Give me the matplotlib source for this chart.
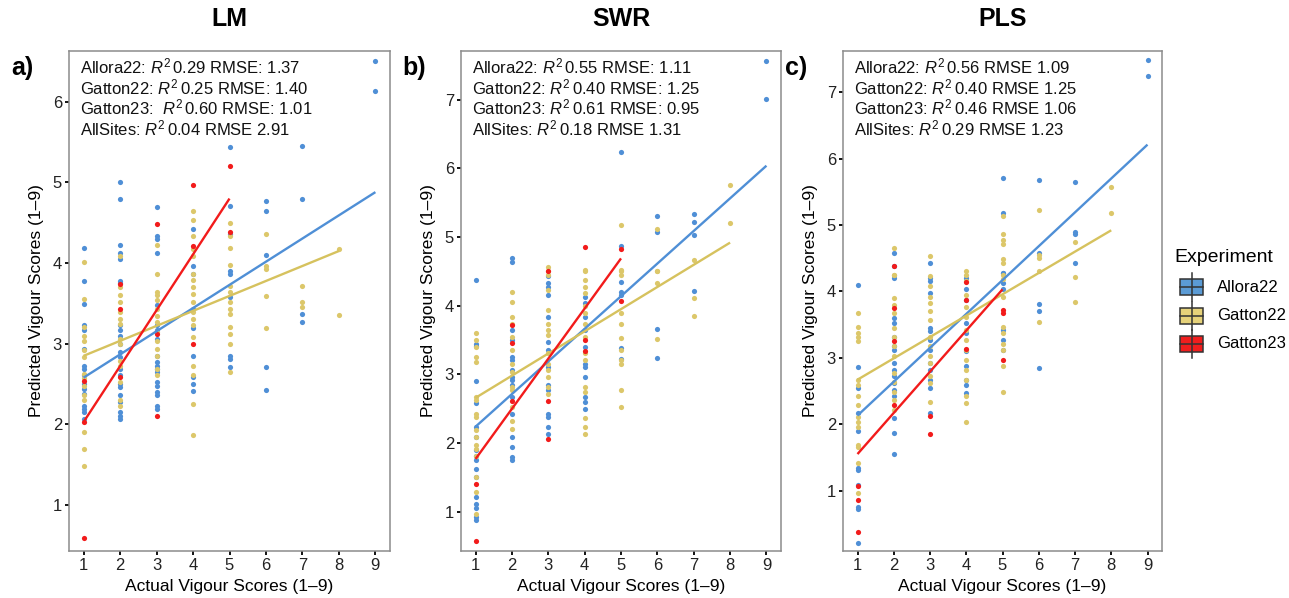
import matplotlib
matplotlib.use("Agg")
import matplotlib.pyplot as plt
from matplotlib.patches import Rectangle

plt.rcParams['font.family'] = ['Liberation Sans', 'DejaVu Sans']
plt.rcParams['mathtext.fontset'] = 'custom'
plt.rcParams['mathtext.rm'] = 'Liberation Sans'
plt.rcParams['mathtext.it'] = 'Liberation Sans:italic'

experiments = ["Allora22", "Gatton22", "Gatton23"]
colors = {"Allora22": "#4F8FD6", "Gatton22": "#DCC76A", "Gatton23": "#F21B1B"}
line_colors = {"Allora22": "#4F8FD6", "Gatton22": "#D6C25E", "Gatton23": "#F21B1B"}
key_colors = {"Allora22": "#5B9BD5", "Gatton22": "#E6D27A", "Gatton23": "#F01E1E"}

# predicted scores per actual score (x)
lm_allora = {
    1: [4.19, 3.78, 3.49, 3.23, 3.17, 2.93, 2.73, 2.69, 2.61, 2.50, 2.44, 2.38, 2.23, 2.19, 2.15, 2.07],
    2: [5.00, 4.79, 4.23, 4.13, 4.05, 3.78, 3.75, 3.23, 3.17, 3.10, 3.00, 2.90, 2.83, 2.69, 2.61,
        2.50, 2.46, 2.36, 2.28, 2.15, 2.11, 2.07],
    3: [4.69, 4.34, 4.30, 4.12, 3.48, 3.23, 3.17, 3.06, 2.85, 2.77, 2.73, 2.69, 2.65, 2.52, 2.48,
        2.40, 2.36, 2.23, 2.19],
    4: [4.42, 3.97, 3.87, 3.43, 3.19, 2.85, 2.59, 2.50, 2.42],
    5: [5.44, 4.71, 4.36, 3.90, 3.87, 3.58, 2.85, 2.81, 2.71],
    6: [4.77, 4.65, 4.10, 2.71, 2.43],
    7: [5.45, 4.80, 3.37, 3.27],
    9: [6.50, 6.13],
}
lm_gatton22 = {
    1: [4.01, 3.55, 3.21, 3.10, 3.04, 2.92, 2.83, 2.63, 2.57, 2.48, 2.36, 2.30, 1.91, 1.70, 1.48],
    2: [4.09, 3.70, 3.60, 3.52, 3.39, 3.31, 3.25, 3.06, 3.00, 2.79, 2.73, 2.52, 2.30, 2.23],
    3: [4.22, 3.87, 3.64, 3.60, 3.54, 3.43, 3.35, 3.27, 3.15, 3.04, 2.94, 2.85, 2.69, 2.61],
    4: [4.64, 4.53, 4.34, 4.17, 4.09, 3.87, 3.79, 3.70, 3.62, 3.52, 3.39, 3.31, 3.23, 3.08, 2.73,
        2.61, 2.25, 1.87],
    5: [4.50, 4.34, 4.19, 3.98, 3.72, 3.64, 3.52, 3.43, 3.37, 3.21, 3.12, 3.00, 2.65],
    6: [4.36, 3.97, 3.93, 3.59, 3.19],
    7: [3.72, 3.52, 3.46],
    8: [4.17, 3.36],
}
lm_gatton23 = {
    1: [2.54, 2.03, 0.59],
    2: [3.74, 3.43, 2.59],
    3: [4.49, 3.12, 2.11],
    4: [4.97, 4.21, 3.00],
    5: [5.21, 4.39],
}

swr_allora = {
    1: [4.38, 3.45, 3.41, 2.90, 2.58, 2.24, 2.09, 1.90, 1.82, 1.75, 1.63, 1.51, 1.22, 1.12, 1.05,
        0.92, 0.88],
    2: [4.69, 4.64, 3.65, 3.50, 3.26, 3.21, 3.06, 2.97, 2.92, 2.84, 2.67, 2.43, 2.09, 1.94, 1.80, 1.75],
    3: [4.43, 4.33, 4.28, 4.16, 3.84, 3.48, 3.35, 3.11, 2.84, 2.77, 2.43, 2.38, 2.24, 2.14],
    4: [4.13, 4.04, 3.84, 3.65, 3.40, 3.16, 3.11, 2.97, 2.67, 2.60, 2.50],
    5: [6.24, 4.87, 4.34, 4.20, 4.16, 3.38, 3.23],
    6: [5.31, 5.07, 3.66, 3.24],
    7: [5.34, 5.22, 5.03, 4.22],
    9: [7.57, 7.01],
}
swr_gatton22 = {
    1: [3.60, 3.50, 3.40, 3.26, 3.18, 2.67, 2.63, 2.43, 2.38, 2.19, 2.09, 1.97, 1.92, 1.82, 1.51,
        1.29, 0.97],
    2: [4.20, 4.06, 3.84, 3.74, 3.55, 3.35, 3.16, 3.04, 2.82, 2.77, 2.53, 2.33, 2.21],
    3: [4.57, 4.51, 4.45, 4.23, 3.94, 3.74, 3.65, 3.57, 3.31, 3.16, 3.06, 2.97, 2.82, 2.72],
    4: [4.52, 4.50, 4.37, 4.28, 4.18, 3.99, 3.89, 3.74, 3.55, 3.31, 3.21, 2.82, 2.75, 2.36, 2.24, 2.14],
    5: [5.18, 4.52, 4.45, 4.50, 3.89, 3.74, 3.53, 3.35, 3.21, 3.16, 2.77, 2.53],
    6: [5.12, 4.51, 4.50, 4.33, 3.51],
    7: [4.67, 4.12, 3.85],
    8: [5.76, 5.21],
}
swr_gatton23 = {
    1: [1.40, 0.57],
    2: [3.72, 3.46, 2.61],
    3: [4.51, 2.61, 2.06],
    4: [4.85, 3.50, 3.34],
    5: [4.83, 4.07],
}

pls_allora = {
    1: [4.09, 2.86, 2.54, 2.17, 1.89, 1.34, 1.31, 1.08, 0.76, 0.73, 0.21],
    2: [4.58, 4.38, 4.20, 3.60, 3.52, 3.32, 3.17, 3.12, 2.92, 2.82, 2.72, 2.62, 2.52, 2.42, 2.09,
        1.86, 1.55],
    3: [4.42, 4.20, 4.15, 3.98, 3.45, 3.40, 3.27, 3.12, 2.92, 2.82, 2.67, 2.54, 2.17],
    4: [4.20, 4.03, 3.87, 3.52, 3.37, 3.10, 2.87, 2.67, 2.59, 2.47],
    5: [5.70, 5.18, 4.27, 4.28, 4.13, 4.03, 3.42, 3.27, 3.12],
    6: [5.68, 4.58, 3.81, 3.71, 2.84],
    7: [5.64, 4.90, 4.87, 4.43],
    9: [7.48, 7.24],
}
pls_gatton22 = {
    1: [3.67, 3.47, 3.37, 3.32, 3.25, 2.67, 2.59, 2.42, 2.29, 2.11, 2.04, 1.96, 1.69, 1.66, 1.41, 0.97],
    2: [4.65, 4.25, 4.24, 3.90, 3.80, 3.67, 3.45, 3.32, 3.17, 3.02, 2.77, 2.64, 2.49, 2.37, 2.22],
    3: [4.54, 4.23, 4.08, 3.92, 3.82, 3.70, 3.57, 3.32, 3.17, 3.02, 2.92, 2.72, 2.62, 2.33],
    4: [4.30, 4.25, 4.15, 3.95, 3.77, 3.62, 3.42, 3.27, 3.12, 2.97, 2.82, 2.67, 2.42, 2.32, 2.03],
    5: [5.14, 4.86, 4.78, 4.72, 4.48, 4.43, 4.25, 4.18, 3.92, 3.47, 3.37, 3.20, 3.12, 2.87, 2.49],
    6: [5.22, 4.55, 4.50, 4.30, 3.54],
    7: [4.75, 4.21, 3.84],
    8: [5.57, 5.18],
}
pls_gatton23 = {
    1: [1.07, 0.86, 0.37],
    2: [4.38, 3.75, 3.26, 2.29],
    3: [2.13, 1.85],
    4: [4.14, 3.87, 3.13],
    5: [3.72, 3.68, 2.97],
}

# fitted lines: (x start, x end, y start, y end)
lm_fits = {"Allora22": (1, 9, 2.58, 4.88), "Gatton22": (1, 8, 2.85, 4.15), "Gatton23": (1, 5, 2.03, 4.80)}
swr_fits = {"Allora22": (1, 9, 2.24, 6.04), "Gatton22": (1, 8, 2.66, 4.92), "Gatton23": (1, 5, 1.77, 4.69)}
pls_fits = {"Allora22": (1, 9, 2.13, 6.21), "Gatton22": (1, 8, 2.67, 4.92), "Gatton23": (1, 5, 1.55, 4.03)}

lm_stats = [r"Allora22: $R^2\,$0.29 RMSE: 1.37", r"Gatton22: $R^2\,$0.25 RMSE: 1.40",
            r"Gatton23:  $R^2\,$0.60 RMSE: 1.01", r"AllSites: $R^2\,$0.04 RMSE 2.91"]
swr_stats = [r"Allora22: $R^2\,$0.55 RMSE: 1.11", r"Gatton22: $R^2\,$0.40 RMSE: 1.25",
             r"Gatton23: $R^2\,$0.61 RMSE: 0.95", r"AllSites: $R^2\,$0.18 RMSE 1.31"]
pls_stats = [r"Allora22: $R^2\,$0.56 RMSE 1.09", r"Gatton22: $R^2\,$0.40 RMSE 1.25",
             r"Gatton23: $R^2\,$0.46 RMSE 1.06", r"AllSites: $R^2\,$0.29 RMSE 1.23"]

panels = [
    ("LM", "a)", [lm_allora, lm_gatton22, lm_gatton23], lm_fits, lm_stats, (0.43, 6.63), range(1, 7)),
    ("SWR", "b)", [swr_allora, swr_gatton22, swr_gatton23], swr_fits, swr_stats, (0.43, 7.71), range(1, 8)),
    ("PLS", "c)", [pls_allora, pls_gatton22, pls_gatton23], pls_fits, pls_stats, (0.09, 7.62), range(1, 8)),
]

W, H = 1289, 598
fig = plt.figure(figsize=(W / 100, H / 100), dpi=100)

# axes boxes in pixels: left, right
boxes = [(69, 390), (461, 781), (843, 1162)]
top_px, bottom_px = 51, 551

for (title, tag, groups, fits, stats, ylim, yticks), (l, r) in zip(panels, boxes):
    ax = fig.add_axes([l / W, 1 - bottom_px / H, (r - l) / W, (bottom_px - top_px) / H])
    for name, data in zip(experiments, groups):
        xs, ys = [], []
        for x, vals in data.items():
            xs += [x] * len(vals)
            ys += vals
        ax.scatter(xs, ys, s=14, color=colors[name], linewidths=0, zorder=2)
    for name in experiments:
        x0, x1, y0, y1 = fits[name]
        ax.plot([x0, x1], [y0, y1], color=line_colors[name], lw=1.7, zorder=3,
                solid_capstyle='butt')
    ax.set_xlim(0.6, 9.4)
    ax.set_ylim(*ylim)
    ax.set_xticks(range(1, 10))
    ax.set_yticks(list(yticks))
    ax.tick_params(length=3, width=1.3, colors='black', labelsize=12, labelcolor='#222222', pad=2)
    for sp in ax.spines.values():
        sp.set_color('#8c8c8c')
        sp.set_linewidth(1.1)
    for i, s in enumerate(stats):
        ax.text(0.035, 0.969 - i * 0.041, s, transform=ax.transAxes, fontsize=12,
                va='center', ha='left', color='#111111')
    cx = (l + r) / 2
    fig.text(cx / W, 1 - 19 / H, title, ha='center', va='center', fontsize=18, fontweight='bold')
    fig.text((l - 47) / W, 1 - 68 / H, tag, ha='center', va='center', fontsize=18, fontweight='bold')
    fig.text(cx / W, 1 - 587 / H, "Actual Vigour Scores (1\u20139)", ha='center', va='center', fontsize=12.5)
    fig.text((l - 32) / W, 1 - (top_px + bottom_px) / 2 / H, "Predicted Vigour Scores (1\u20139)",
             ha='center', va='center', rotation=90, fontsize=12.5)

# legend drawn with boxplot-style keys
lax = fig.add_axes([0, 0, 1, 1])
lax.set_xlim(0, W)
lax.set_ylim(H, 0)
lax.axis('off')
lax.text(1174, 258, "Experiment", fontsize=14, va='center', ha='left')
for i, name in enumerate(experiments):
    yc = 287 + i * 28.5
    lax.plot([1192, 1192], [yc - 14, yc + 14], color='#333333', lw=1.1)
    lax.add_patch(Rectangle((1180, yc - 8), 23, 16, facecolor=key_colors[name],
                            edgecolor='#333333', lw=1.1))
    lax.plot([1180, 1203], [yc, yc], color='#333333', lw=1.1)
    lax.text(1217, yc, name, fontsize=12, va='center', ha='left')

fig.savefig("out.png", dpi=100)
